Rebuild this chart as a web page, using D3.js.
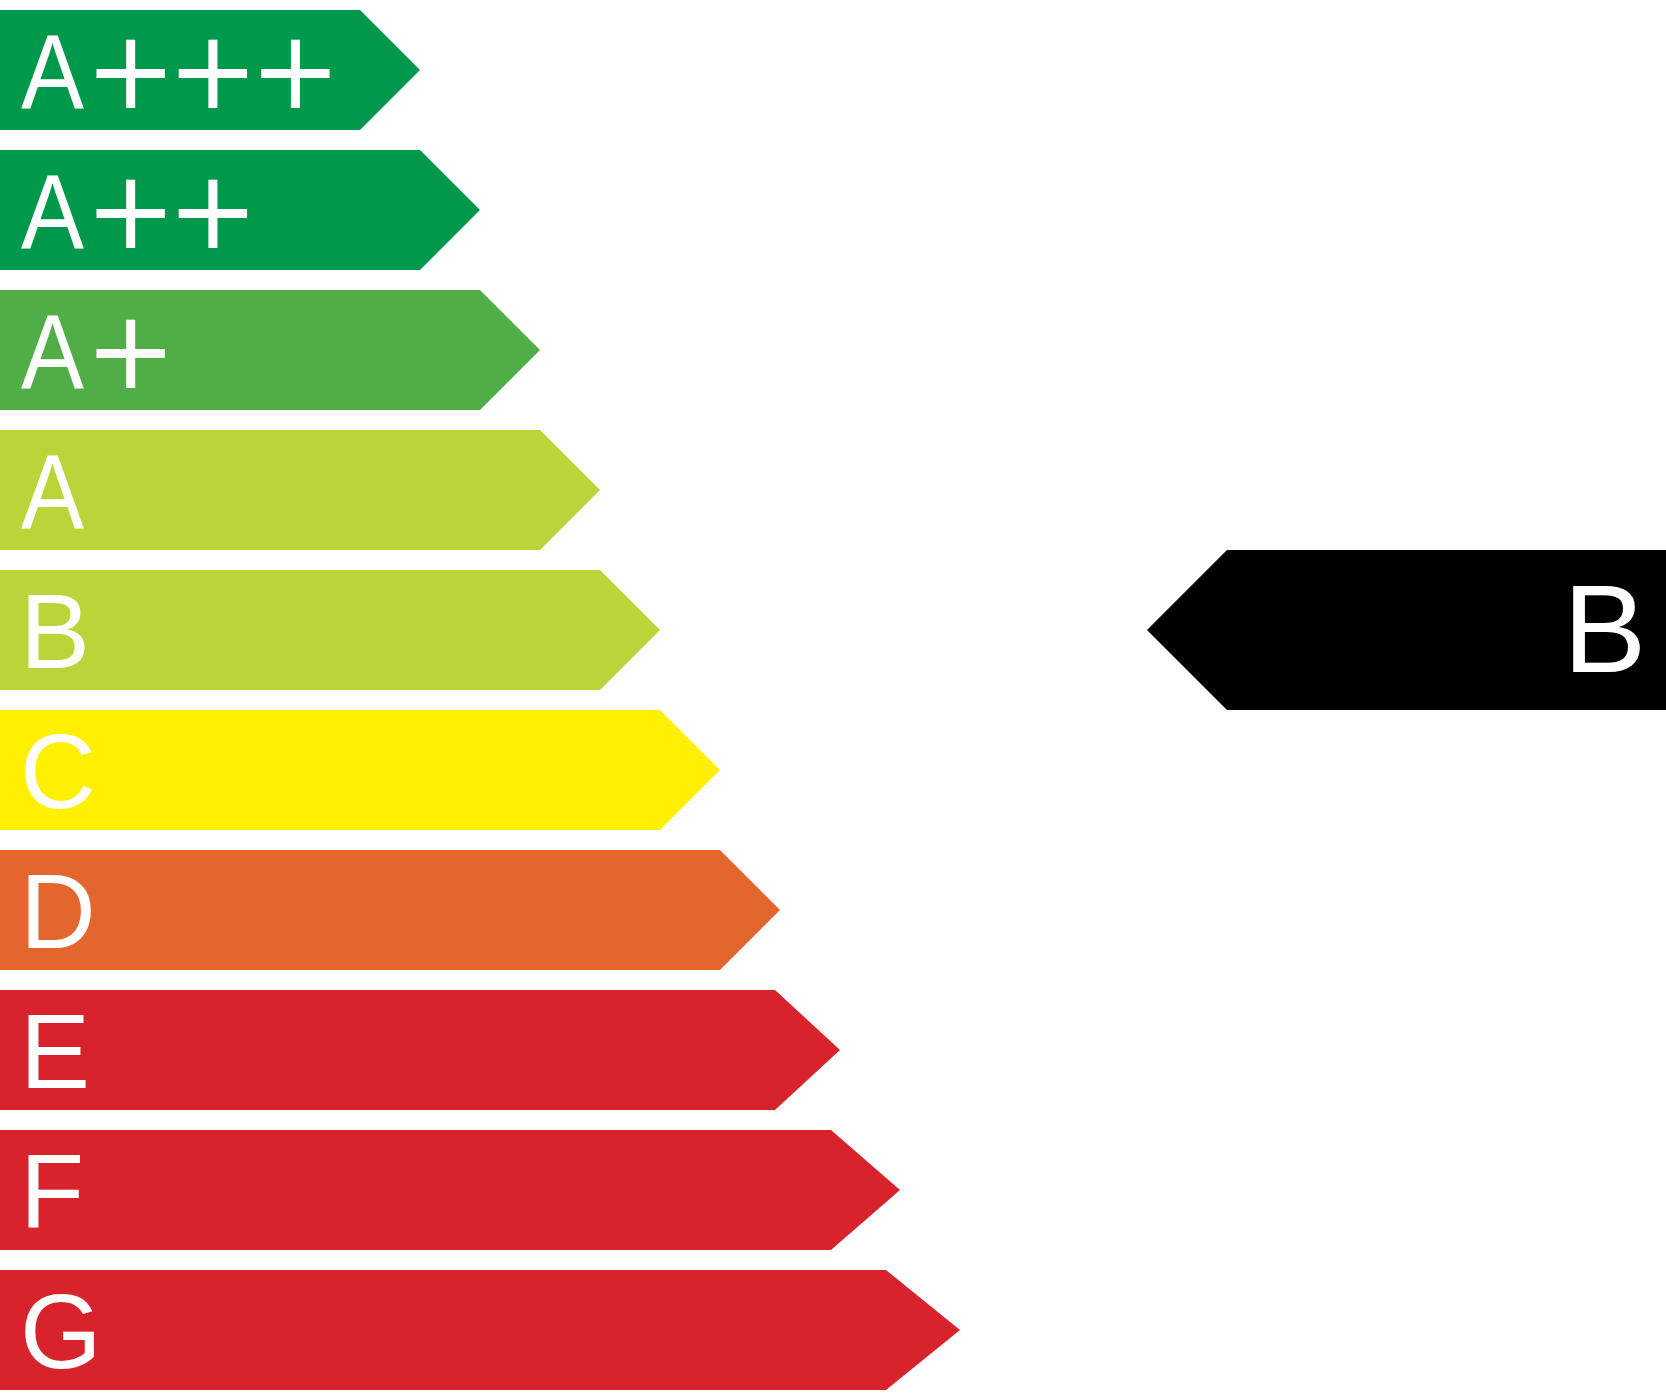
<!DOCTYPE html>
<html>
<head>
<meta charset="utf-8">
<script src="https://cdn.jsdelivr.net/npm/d3@7"></script>
<style>
  html, body { margin: 0; padding: 0; background: #ffffff; }
  svg { display: block; }
</style>
</head>
<body>
<script>
// ---- data ----
const categories = ["A+++", "A++", "A+", "A", "B", "C", "D", "E", "F", "G"];
const tipValues  = [420, 480, 540, 600, 660, 720, 780, 840, 900, 960];   // arrow tip extent
const bodyValues = [360, 420, 480, 540, 600, 660, 720, 775, 831, 886];   // flat body extent
const barColors  = ["#00984A", "#00984A", "#51AE46", "#BBD43A", "#BBD43A",
                    "#FFF000", "#E3672C", "#D8232C", "#D8232C", "#D8232C"];
const rating = "B";

const W = 1666, H = 1400;

const svg = d3.select("body").append("svg")
  .attr("width", W).attr("height", H)
  .attr("viewBox", `0 0 ${W} ${H}`);

const x = d3.scaleLinear().domain([0, W]).range([0, W]);
const y = d3.scaleBand().domain(categories).range([10, 1390]).paddingInner(1 / 7).paddingOuter(0);
const bw = y.bandwidth();

const rows = categories.map((c, i) => ({ cat: c, tip: tipValues[i], body: bodyValues[i], color: barColors[i] }));

const g = svg.append("g");

g.selectAll("path.bar")
  .data(rows)
  .join("path")
  .attr("class", "bar")
  .attr("fill", d => d.color)
  .attr("d", d => {
    const t = y(d.cat), b = t + bw, m = t + bw / 2;
    return `M${x(0)},${t}L${x(d.body)},${t}L${x(d.tip)},${m}L${x(d.body)},${b}L${x(0)},${b}Z`;
  });

// labels
const labels = g.selectAll("text.lab")
  .data(rows)
  .join("text")
  .attr("class", "lab")
  .attr("x", 20)
  .attr("y", d => y(d.cat) + 98)
  .attr("fill", "#ffffff")
  .style("font-family", "'Liberation Sans', Arial, Helvetica, sans-serif")
  .style("font-size", "105px");

labels.each(function (d) {
  const t = d3.select(this);
  const letter = d.cat.replace(/\+/g, "");
  const pluses = d.cat.slice(letter.length);
  const ls = t.append("tspan").text(letter);
  if (letter === "A") {
    ls.attr("x", 21).attr("textLength", 63).attr("lengthAdjust", "spacingAndGlyphs");
  }
  if (pluses.length) {
    t.append("tspan")
      .attr("x", 85)
      .style("font-family", "'DejaVu Sans', sans-serif")
      .style("font-size", "109px")
      .style("letter-spacing", "-9px")
      .text(pluses);
  }
});

// rating indicator
const rt = y(rating) + bw / 2;
const half = 80;
svg.append("path")
  .attr("fill", "#000000")
  .attr("d", `M${x(1147)},${rt}L${x(1227)},${rt - half}L${x(W)},${rt - half}L${x(W)},${rt + half}L${x(1227)},${rt + half}Z`);

svg.append("text")
  .attr("x", 1563)
  .attr("y", rt + 42)
  .attr("fill", "#ffffff")
  .style("font-family", "'Liberation Sans', Arial, Helvetica, sans-serif")
  .style("font-size", "125px")
  .text(rating);
</script>
</body>
</html>
